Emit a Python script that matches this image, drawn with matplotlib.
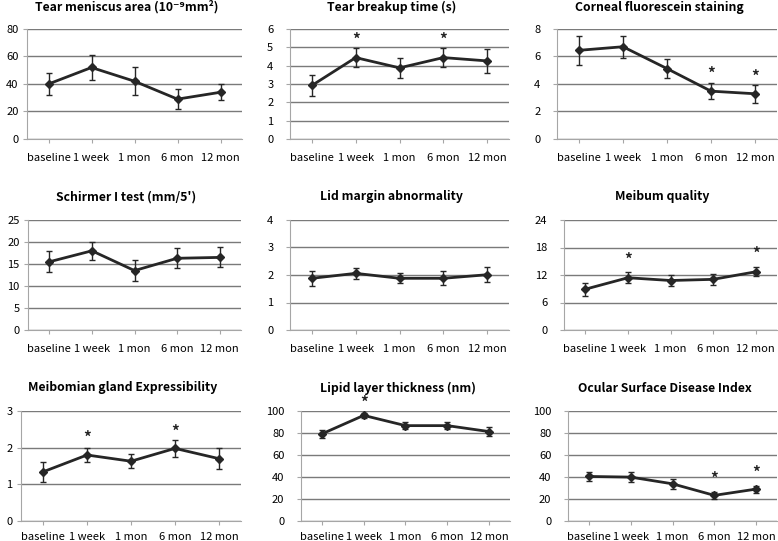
import numpy as np
import matplotlib.pyplot as plt

plt.rcParams['font.family'] = ['Noto Sans CJK KR', 'DejaVu Sans']

visits = ['baseline', '1 week', '1 mon', '6 mon', '12 mon']

titles = ['Tear meniscus area (10\u207b\u2079mm\u00b2)', 'Tear breakup time (s)', 'Corneal fluorescein staining',
          "Schirmer I test (mm/5')", 'Lid margin abnormality', 'Meibum quality',
          'Meibomian gland Expressibility', 'Lipid layer thickness (nm)', 'Ocular Surface Disease Index']

tma = [40, 52, 42, 29, 34]
tma_err = [8, 9, 10, 7, 6]
tbut = [2.92, 4.44, 3.88, 4.44, 4.26]
tbut_err = [0.55, 0.54, 0.53, 0.54, 0.65]
cfs = [6.45, 6.71, 5.12, 3.48, 3.29]
cfs_err = [1.05, 0.8, 0.7, 0.6, 0.67]
schirmer = [15.5, 18.0, 13.5, 16.3, 16.5]
schirmer_err = [2.35, 2.1, 2.35, 2.3, 2.25]
lid = [1.88, 2.06, 1.88, 1.88, 2.01]
lid_err = [0.28, 0.2, 0.18, 0.25, 0.28]
meibum = [8.9, 11.4, 10.8, 11.05, 12.7]
meibum_err = [1.4, 1.15, 1.15, 1.25, 0.95]
mge = [1.34, 1.8, 1.63, 1.98, 1.7]
mge_err = [0.28, 0.19, 0.19, 0.24, 0.28]
llt = [79.2, 96, 86.7, 86.7, 81.3]
llt_err = [3.8, 2.3, 3.0, 3.3, 3.8]
osdi = [40.5, 39.9, 33.8, 23.3, 29]
osdi_err = [4.3, 4.2, 4.4, 3.5, 3.2]

series = [tma, tbut, cfs, schirmer, lid, meibum, mge, llt, osdi]
errors = [tma_err, tbut_err, cfs_err, schirmer_err, lid_err, meibum_err, mge_err, llt_err, osdi_err]
ymax = [80, 6, 8, 25, 4, 24, 3, 100, 100]
ystep = [20, 1, 2, 5, 1, 6, 1, 20, 20]

# significant visits (index, y of asterisk)
stars = [[], [(1, 5.4), (3, 5.4)], [(3, 4.75), (4, 4.5)],
         [], [], [(1, 15.3), (4, 16.6)],
         [(1, 2.27), (3, 2.44)], [(1, 107)], [(3, 38.7), (4, 44.1)]]

# axes boxes in pixels: left, top, right, bottom
boxes = [(27, 29, 242, 139), (290, 29, 509, 139), (557, 29, 777, 139),
         (28, 220, 241, 330), (290, 220, 509, 330), (564, 220, 777, 330),
         (21, 411, 241, 521), (301, 411, 510, 521), (568, 411, 777, 521)]
title_y = [7, 7, 7, 197, 197, 197, 388, 388, 388]

W, H = 778, 541
fig = plt.figure(figsize=(W / 100, H / 100), dpi=100)

for i in range(9):
    l, t, r, b = boxes[i]
    ax = fig.add_axes([l / W, 1 - b / H, (r - l) / W, (b - t) / H])
    x = np.arange(len(visits))
    ax.errorbar(x, series[i], yerr=errors[i], color='#262626', lw=2, marker='D', ms=4,
                ecolor='#262626', elinewidth=1, capsize=2.5, capthick=1, zorder=3)
    for k, sy in stars[i]:
        ax.text(k, sy, '*', ha='center', va='center', fontsize=11, fontweight='bold',
                color='#262626', clip_on=False)
    ax.set_xlim(-0.5, 4.5)
    ax.set_ylim(0, ymax[i])
    ax.set_yticks(np.arange(0, ymax[i] + ystep[i] / 2, ystep[i]))
    ax.set_xticks(x)
    ax.set_xticklabels(visits)
    ax.grid(axis='y', color='#7a7a7a', lw=1)
    ax.set_axisbelow(True)
    for s in ['top', 'right']:
        ax.spines[s].set_visible(False)
    for s in ['left', 'bottom']:
        ax.spines[s].set_color('#a6a6a6')
    ax.tick_params(axis='both', colors='#a6a6a6', labelcolor='black', labelsize=8, length=3)
    for lab in ax.get_xticklabels() + ax.get_yticklabels():
        lab.set_fontweight('medium')
    ax.tick_params(axis='y', pad=3 if i % 3 == 0 else 9)
    ax.tick_params(axis='x', pad=5 if i >= 6 else 7)
    fig.text((l + r) / 2 / W - 8 / W, 1 - title_y[i] / H, titles[i], ha='center', va='center',
             fontsize=8.8, fontweight='bold')

fig.savefig('out.png', dpi=100)
